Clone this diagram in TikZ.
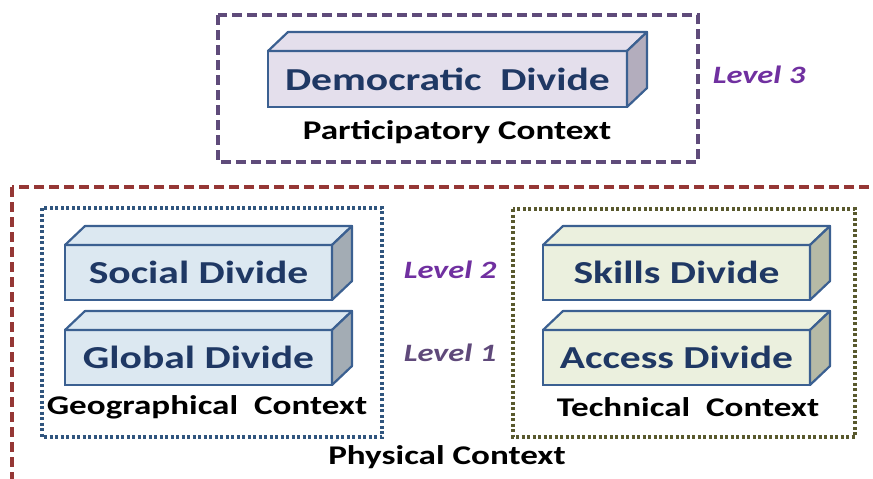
\documentclass[tikz,border=0pt]{standalone}
\usepackage{fontspec}
\setmainfont{Carlito}[FakeStretch=1.3]
\usetikzlibrary{positioning}

\definecolor{edgeblue}{HTML}{3B6091}
\definecolor{navytext}{HTML}{1F3864}
\definecolor{demface}{HTML}{E4DFEC}
\definecolor{demside}{HTML}{B3ADBD}
\definecolor{geoface}{HTML}{DCE8F1}
\definecolor{geoside}{HTML}{A3ACB4}
\definecolor{techface}{HTML}{EBF0DE}
\definecolor{techside}{HTML}{B6BAA6}
\definecolor{lvlpurple}{HTML}{7030A0}
\definecolor{lvlgrey}{HTML}{5F497A}
\definecolor{partline}{HTML}{5F4B7A}
\definecolor{physline}{HTML}{953735}
\definecolor{geoline}{HTML}{30557E}
\definecolor{techline}{HTML}{59592E}

% top and side faces of a front-face node
\newcommand\slab[3]{%
  \filldraw[fill=#2, draw=edgeblue, line width=2.2pt, line join=round]
    (#1.north west) -- ([shift={(20,-19)}]#1.north west)
    -- ([shift={(20,-19)}]#1.north east) -- (#1.north east) -- cycle;
  \filldraw[fill=#3, draw=edgeblue, line width=2.2pt, line join=round]
    (#1.north east) -- ([shift={(20,-19)}]#1.north east)
    -- ([shift={(20,-19)}]#1.south east) -- (#1.south east) -- cycle;}

\tikzset{
  front/.style={draw=edgeblue, line width=2.2pt, outer sep=0pt, inner sep=0pt,
    minimum width=267pt, minimum height=55pt, text=navytext,
    font=\fontsize{32}{32}\selectfont\bfseries},
  ctxlabel/.style={font=\fontsize{27}{27}\selectfont\bfseries},
  lvl/.style={font=\fontsize{25}{25}\selectfont\bfseries\itshape},
  dashbox/.style={line width=3.5pt, dash pattern=on 10pt off 5pt},
  dotbox/.style={line width=3.5pt, dash pattern=on 3pt off 2.5pt}
}

\begin{document}
\begin{tikzpicture}[x=1pt,y=-1pt]
\useasboundingbox (0,0) rectangle (873,479);

% context frames
\draw[dashbox, partline] (218,15) rectangle (698,162);
\draw[dashbox, physline] (12,187) rectangle (895,505);
\draw[dotbox, geoline] (42,208) rectangle (382,437);
\draw[dotbox, techline] (513,209) rectangle (855,437);

% level 3
\node[front, fill=demface, minimum width=359pt, minimum height=56pt] (democratic) at (447.5,79) {Democratic~~Divide};
\slab{democratic}{demface}{demside}
\node[ctxlabel] (participatory) at (457,132) {Participatory Context};
\node[lvl, text=lvlpurple] (level3) at (759,75) {Level 3};

% geographical side
\node[front, fill=geoface] (social) at (198.5,272.5) {Social Divide};
\slab{social}{geoface}{geoside}
\node[front, fill=geoface] (global) at (198.5,357.5) {Global Divide};
\slab{global}{geoface}{geoside}
\node[ctxlabel] (geographical) at (207,407) {Geographical~~Context};

% technical side
\node[front, fill=techface] (skills) at (676.5,272.5) {Skills Divide};
\slab{skills}{techface}{techside}
\node[front, fill=techface] (access) at (676.5,357.5) {Access Divide};
\slab{access}{techface}{techside}
\node[ctxlabel] (technical) at (688,407) {Technical~~Context};

\node[lvl, text=lvlpurple] (level2) at (450,270) {Level 2};
\node[lvl, text=lvlgrey] (level1) at (450,353) {Level 1};

\node[ctxlabel] (physical) at (447,457) {Physical Context};
\end{tikzpicture}
\end{document}
